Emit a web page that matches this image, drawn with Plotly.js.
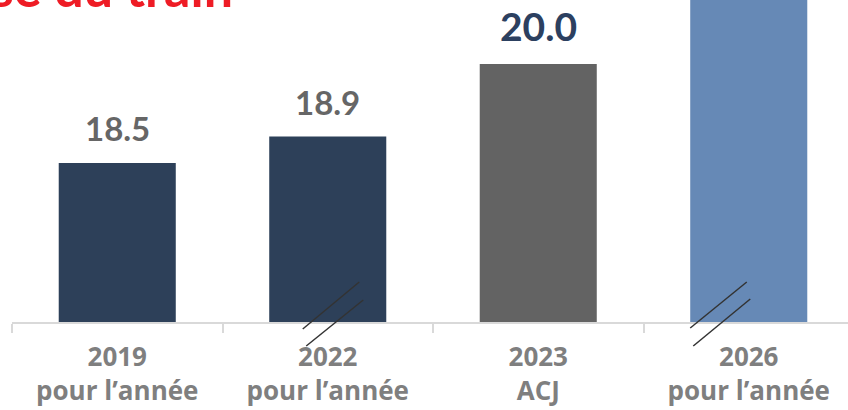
<!DOCTYPE html>
<html><head><meta charset="utf-8">
<script src="https://cdn.plot.ly/plotly-3.0.1.min.js"></script>
<style>html,body{margin:0;padding:0;background:#fff;overflow:hidden}#chart{width:848px;height:410px}</style>
</head><body><div id="chart"></div>
<script>
const categories = ["2019<br>pour l’année", "2022<br>pour l’année", "2023<br>ACJ", "2026<br>pour l’année"];
const values = [18.5, 18.9, 20.0, 22.5];
const valueLabels = ["18.5", "18.9", "20.0", ""];
const barColors = ["#2d4059", "#2d4059", "#636363", "#6689b6"];
const labelColors = ["#666666", "#666666", "#2c4060", "#6689b6"];
const labelSizes = [33, 33, 39, 33];
const breakCats = [1, 3];
const titleText = "Hausse du train";

const trace = {
  type: "bar", x: categories, y: values,
  marker: {color: barColors, line: {width: 0}},
  hoverinfo: "none"
};

const annotations = values.map((v, i) => ({
  x: categories[i], y: v, xref: "x", yref: "y",
  text: "<b>" + valueLabels[i] + "</b>", showarrow: false,
  yanchor: "bottom", yshift: 13,
  font: {family: "Lato, sans-serif", size: labelSizes[i], color: labelColors[i]}
})).filter(a => a.text !== "<b></b>");

annotations.push({
  xref: "paper", yref: "paper", x: (235 - 12) / 836, xanchor: "right", y: 1, yanchor: "bottom",
  text: "<b>" + titleText + "</b>", showarrow: false, yshift: -20,
  font: {family: "Lato, sans-serif", size: 52, color: "#ee1c25"}
});

const shapes = [];
breakCats.forEach(c => {
  const lines = (c === 1)
    ? [[-25, -7, 31.5, 40], [-21.5, -24, 35.5, 22]]
    : [[-58.5, -6, -2, 40], [-55.5, -24, 1.5, 23]];
  lines.forEach(l => shapes.push({
    type: "line", xref: "x", yref: "paper",
    xsizemode: "pixel", ysizemode: "pixel", xanchor: c, yanchor: 0,
    x0: l[0], y0: l[1], x1: l[2], y1: l[3],
    line: {color: "#333333", width: 1.5}
  }));
});

const layout = {
  width: 848, height: 410,
  margin: {l: 12, r: 0, t: 0, b: 88},
  paper_bgcolor: "#ffffff", plot_bgcolor: "#ffffff",
  showlegend: false, bargap: 0.444,
  xaxis: {
    type: "category", range: [-0.5, 3.4715], tickson: "boundaries",
    ticks: "outside", ticklen: 9, tickwidth: 2, tickcolor: "#d9d9d9",
    showline: true, linecolor: "#d9d9d9", linewidth: 2,
    showgrid: false, zeroline: false, ticklabelstandoff: 11,
    tickfont: {family: "Open Sans, sans-serif", size: 26, color: "#7f7f7f", weight: "bold"}
  },
  yaxis: {range: [16.09, 20.97], visible: false, showgrid: false, zeroline: false},
  annotations: annotations, shapes: shapes
};

Plotly.newPlot("chart", [trace], layout, {staticPlot: true, displayModeBar: false});
</script></body></html>
